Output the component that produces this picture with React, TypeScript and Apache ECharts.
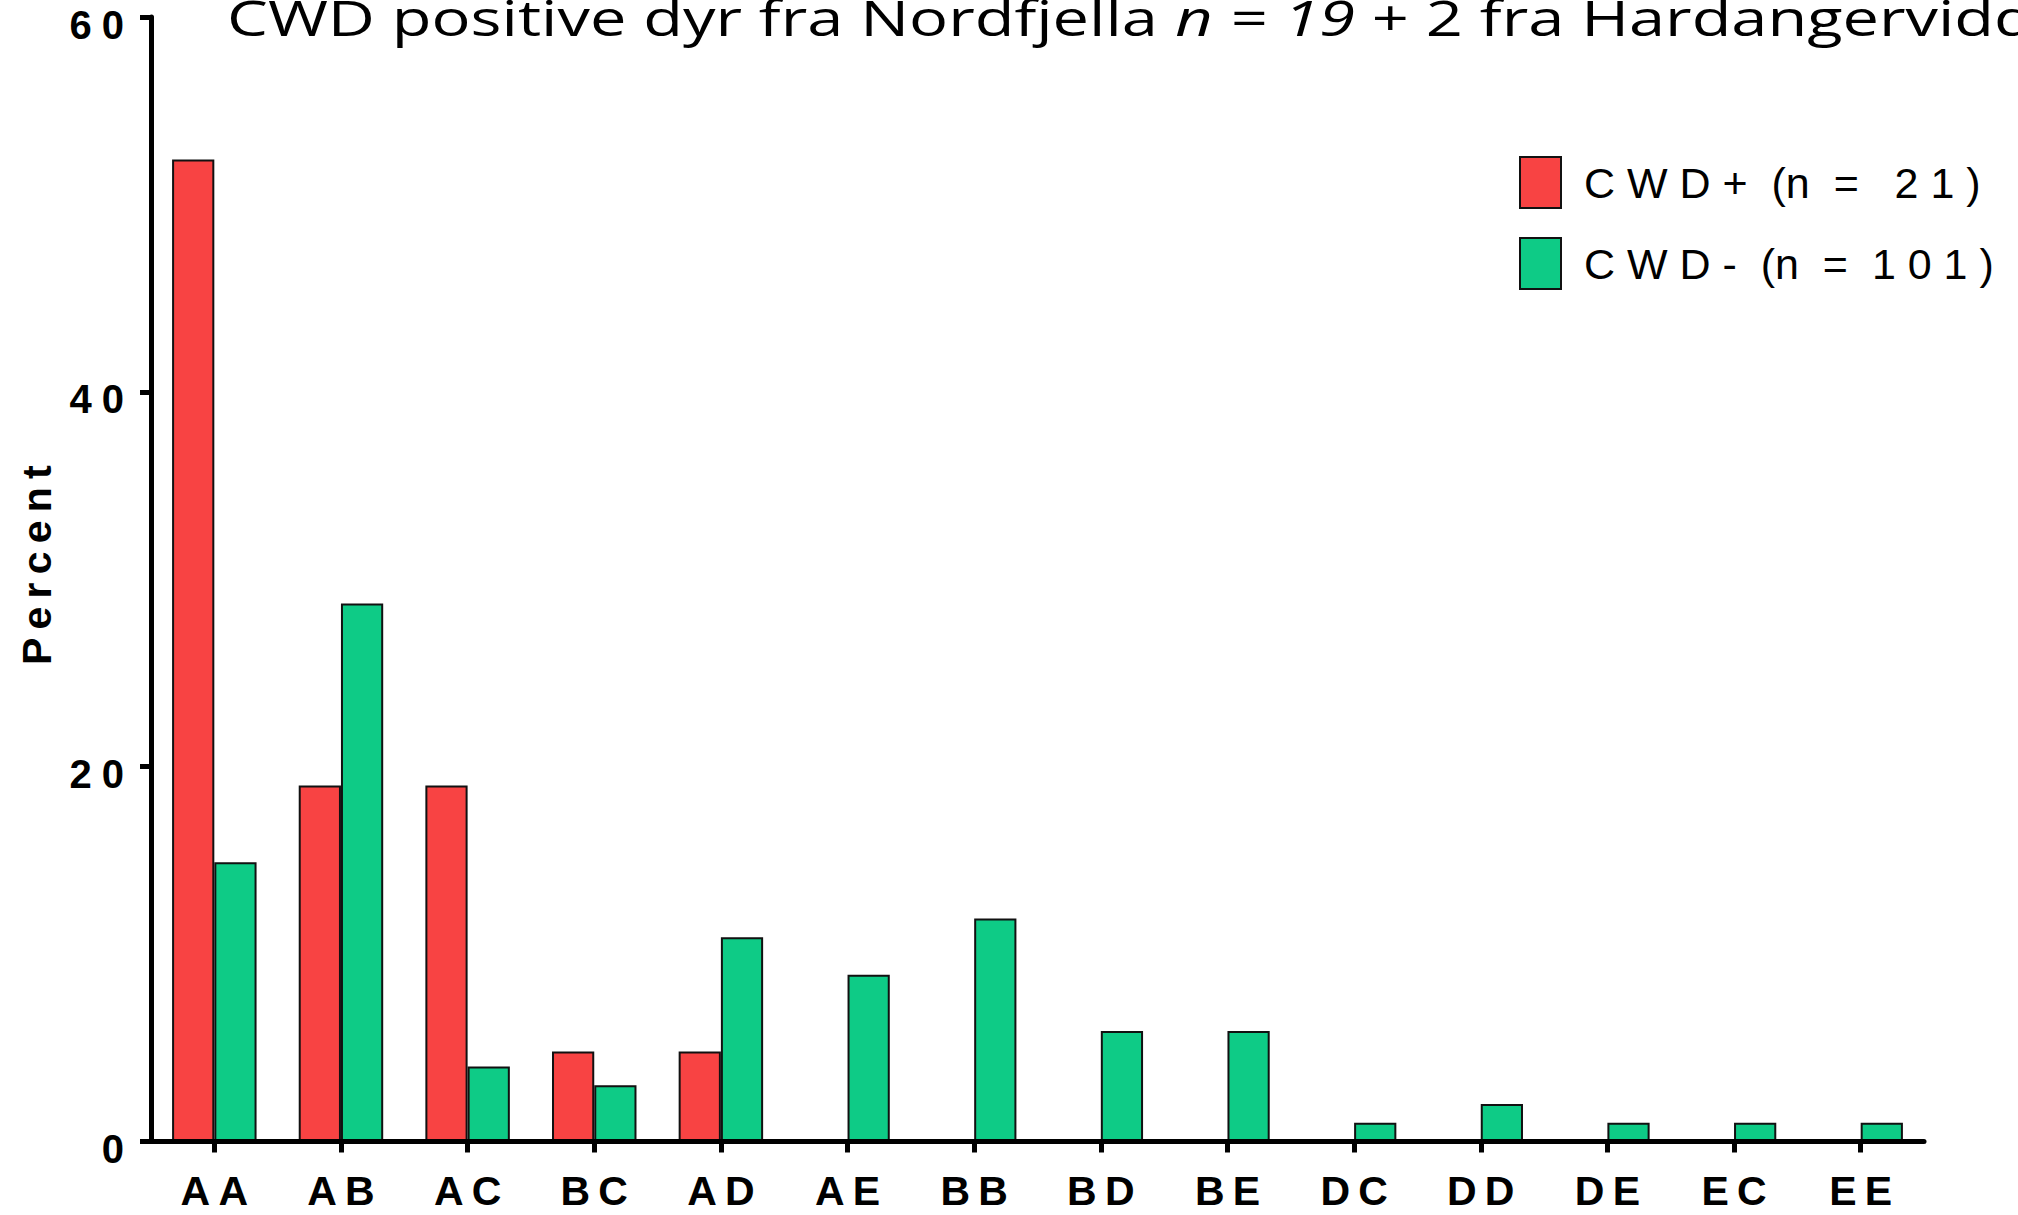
import React, { useEffect, useRef } from "react";
import * as echarts from "echarts";

// ---- data ----
const categories = ["AA", "AB", "AC", "BC", "AD", "AE", "BB", "BD", "BE", "DC", "DD", "DE", "EC", "EE"];
const cwdPositive = [52.4, 19.0, 19.0, 4.8, 4.8, 0, 0, 0, 0, 0, 0, 0, 0, 0];
const cwdNegative = [14.9, 28.7, 4.0, 3.0, 10.9, 8.9, 11.9, 5.9, 5.9, 1.0, 2.0, 1.0, 1.0, 1.0];
const seriesNames = ["CWD+ (n = 21)", "CWD- (n = 101)"];
const legendDisplay = ["C W D +  (n  =   2 1 )", "C W D -  (n  =  1 0 1 )"];
const yAxisName = "Percent";
const titleParts = ["CWD positive dyr fra Nordfjella ", "n = 19", " + 2 fra Hardangervidda"];

const RED = "#F84343";
const GREEN = "#0ECB86";
const spaced = (s: string, sep: string) => s.split("").join(sep);

export default function App() {
  const ref = useRef<HTMLDivElement>(null);

  useEffect(() => {
    if (!ref.current) return;
    const chart = echarts.init(ref.current, null, { renderer: "svg" });

    // horizontal stretch of the title, as in the reference
    const ctx = document.createElement("canvas").getContext("2d")!;
    ctx.font = '50px "Open Sans"';
    const w = ctx.measureText(titleParts[0].trimEnd()).width || 700;
    const titleScale = 931 / w;

    const option: any = {
      animation: false,
      backgroundColor: "#ffffff",
      grid: {
        left: 151,
        right: 94,
        top: 17,
        bottom: 73.5,
        containLabel: false,
        outerBoundsMode: "none",
      },
      legend: {
        orient: "vertical",
        left: 1519,
        top: 156,
        padding: 0,
        itemWidth: 41,
        itemHeight: 51,
        itemGap: 28,
        icon: "rect",
        selectedMode: false,
        data: seriesNames,
        formatter: (name: string) => legendDisplay[seriesNames.indexOf(name)] ?? name,
        textStyle: {
          fontFamily: "Liberation Sans",
          fontSize: 43,
          color: "#000",
          padding: [14, 0, 0, 18],
        },
      },
      xAxis: {
        type: "category",
        data: categories,
        z: 10,
        axisLine: { show: true, lineStyle: { color: "#000", width: 5 } },
        axisTick: {
          show: true,
          alignWithLabel: true,
          interval: 0,
          length: 11,
          lineStyle: { color: "#000", width: 5 },
        },
        axisLabel: {
          interval: 0,
          margin: 32,
          lineHeight: 34,
          color: "#000",
          fontFamily: "Liberation Sans",
          fontWeight: "bold",
          fontSize: 41,
          formatter: (v: string) => spaced(v, "\u2009"),
        },
        splitLine: { show: false },
      },
      yAxis: {
        type: "value",
        min: 0,
        max: 60,
        interval: 20,
        z: 10,
        name: spaced(yAxisName, "\u2009"),
        nameLocation: "middle",
        nameGap: 94,
        nameTextStyle: {
          fontFamily: "Liberation Sans",
          fontWeight: "bold",
          fontSize: 41,
          color: "#000",
          padding: [0, 0, 0, 28],
        },
        axisLine: { show: true, lineStyle: { color: "#000", width: 5 } },
        axisTick: { show: true, length: 11, lineStyle: { color: "#000", width: 5 } },
        axisLabel: {
          margin: 27,
          color: "#000",
          fontFamily: "Liberation Sans",
          fontWeight: "bold",
          fontSize: 40,
          verticalAlign: "top",
          lineHeight: 15,
          formatter: (v: number) => spaced(String(v), "\u2005"),
        },
        splitLine: { show: false },
      },
      series: [
        {
          name: seriesNames[0],
          type: "bar",
          data: cwdPositive,
          barGap: "0%",
          barCategoryGap: "33.3%",
          itemStyle: { color: RED, borderColor: "#111", borderWidth: 2 },
        },
        {
          name: seriesNames[1],
          type: "bar",
          data: cwdNegative,
          barGap: "0%",
          barCategoryGap: "33.3%",
          itemStyle: { color: GREEN, borderColor: "#111", borderWidth: 2 },
        },
      ],
      graphic: [
        {
          type: "text",
          x: 227,
          y: 17,
          scaleX: titleScale,
          originX: 0,
          z: 20,
          style: {
            text: `{r|${titleParts[0]}}{i|${titleParts[1]}}{r|${titleParts[2]}}`,
            verticalAlign: "middle",
            align: "left",
            rich: {
              r: { fontFamily: "Open Sans", fontSize: 50, fill: "#000" },
              i: { fontFamily: "Open Sans", fontSize: 50, fontStyle: "italic", fill: "#000" },
            },
          },
        },
      ],
    };

    chart.setOption(option);
    return () => chart.dispose();
  }, []);

  return (
    <div
      ref={ref}
      style={{ position: "fixed", left: 0, top: 0, width: 2018, height: 1215, background: "#fff" }}
    />
  );
}
